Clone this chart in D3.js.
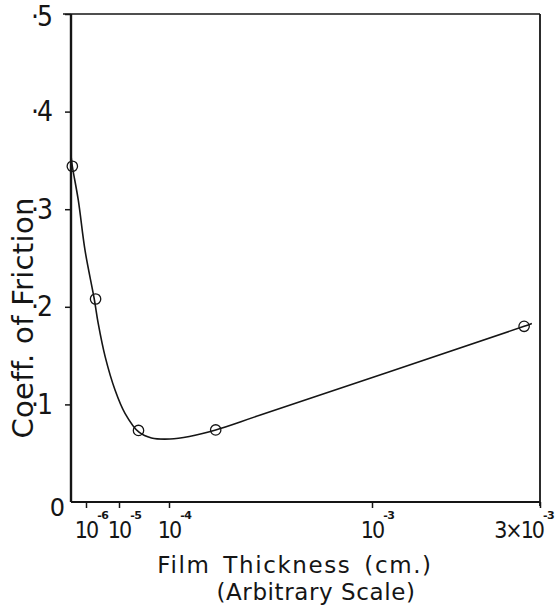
<!DOCTYPE html>
<html>
<head>
<meta charset="utf-8">
<script src="https://cdn.jsdelivr.net/npm/d3@7"></script>
<style>
  html, body { margin: 0; padding: 0; background: #fff; }
  svg { display: block; }
  text { font-family: "DejaVu Sans", "Liberation Sans", sans-serif; fill: #151515; }
</style>
</head>
<body>
<svg id="chart" width="558" height="611"></svg>
<script>
// Film thickness is stored as log10(cm); the horizontal axis is an arbitrary scale.
const pointThickness = [-6.41, -5.71, -4.61, -3.77, -2.568];
const pointFriction  = [0.344, 0.208, 0.0733, 0.0738, 0.180];

// Hand-drawn fair curve through the measurements (log10 cm, coefficient).
const curveThickness = [-6.45, -6.41, -6.23, -6.03, -5.75, -5.63, -5.42, -5.12, -4.88, -4.60, -4.35, -3.995, -3.90, -3.77, -3.55, -2.568, -2.546];
const curveFriction  = [0.355, 0.344, 0.309, 0.258, 0.208, 0.183, 0.149, 0.1148, 0.0909, 0.0715, 0.0656, 0.0645, 0.0671, 0.0738, 0.0891, 0.180, 0.183];

// Axis ticks
const xTickValues = [-6, -5, -4, -3, Math.log10(0.003)];
const xTickBase   = ["10", "10", "10", "10", "3×10"];
const xTickSup    = ["-6", "-5", "-4", "-3", "-3"];
const yTickValues = [0, 0.1, 0.2, 0.3, 0.4, 0.5];
const yTickLabels = ["0", "·1", "·2", "·3", "·4", "·5"];

const svg = d3.select("#chart");
const plotLeft = 71, plotRight = 540, plotTop = 14, plotBottom = 502;

// Piecewise arbitrary scale for the thickness decades
const x = d3.scaleLinear()
  .domain([-6.45, -6, -5, -4, -3, Math.log10(0.003)])
  .range([0, 15, 48, 98, 301, 469].map(d => plotLeft + d));

const y = d3.scaleLinear().domain([0, 0.5]).range([plotBottom, plotTop]);

const ink = "#151515";
const condensed = "'DejaVu Sans Condensed', 'DejaVu Sans', sans-serif";

// Frame
svg.append("line").attr("x1", plotLeft - 8).attr("x2", plotRight).attr("y1", plotTop).attr("y2", plotTop)
  .attr("stroke", ink).attr("stroke-width", 1.6);
svg.append("line").attr("x1", plotRight).attr("x2", plotRight).attr("y1", plotTop).attr("y2", plotBottom + 4)
  .attr("stroke", ink).attr("stroke-width", 1.8);

// Y axis
const yAxis = svg.append("g").attr("transform", `translate(${plotLeft},0)`)
  .call(d3.axisLeft(y).tickValues(yTickValues).tickSize(6).tickPadding(14)
    .tickFormat((d, i) => yTickLabels[i]));
yAxis.select(".domain").attr("stroke", ink).attr("stroke-width", 2.4).attr("d", `M0,${plotTop}V${plotBottom}`);
yAxis.selectAll(".tick line").attr("stroke", ink).attr("stroke-width", 1.5);
yAxis.selectAll(".tick text")
  .attr("font-size", 28).attr("letter-spacing", -2).attr("fill", ink)
  .style("font-family", condensed);
yAxis.selectAll(".tick").filter(d => d === 0).select("text")
  .attr("x", -8).attr("dy", "0.55em").attr("font-size", 24)
  .style("font-family", null);
yAxis.selectAll(".tick").filter(d => d === 0).select("line").remove();
yAxis.selectAll(".tick").filter(d => d === 0.5).select("text").attr("dy", "0.42em");

// X axis
const xAxis = svg.append("g").attr("transform", `translate(0,${plotBottom})`)
  .call(d3.axisBottom(x).tickValues(xTickValues).tickSize(6).tickFormat(""));
xAxis.select(".domain").attr("stroke", ink).attr("stroke-width", 2.2).attr("d", `M${plotLeft},0H${plotRight}`);
xAxis.selectAll(".tick line").attr("stroke", ink).attr("stroke-width", 1.5);

// Tick labels with superscript exponents
const labels = svg.append("g").attr("class", "xlabels");
xTickValues.forEach((v, i) => {
  const tx = x(v);
  const probe = labels.append("text").attr("font-size", 23).attr("letter-spacing", -2)
    .style("font-family", condensed).text("10");
  const half = probe.node().getComputedTextLength() / 2;
  probe.remove();
  const endX = Math.min(tx + half, 543);
  labels.append("text")
    .attr("x", endX).attr("y", plotBottom + 36)
    .attr("text-anchor", "end").attr("font-size", 23)
    .attr("letter-spacing", -2).style("font-family", condensed)
    .text(xTickBase[i]);
  labels.append("text")
    .attr("x", endX).attr("y", plotBottom + 17)
    .attr("font-size", 11).attr("font-weight", "bold")
    .attr("letter-spacing", -0.5)
    .text(xTickSup[i]);
});

// Axis titles
svg.append("text")
  .attr("x", 295).attr("y", 573)
  .attr("text-anchor", "middle").attr("font-size", 23)
  .attr("letter-spacing", 1.6).attr("word-spacing", 4)
  .text("Film Thickness (cm.)");
svg.append("text")
  .attr("x", 316).attr("y", 600)
  .attr("text-anchor", "middle").attr("font-size", 23)
  .attr("letter-spacing", 0.6)
  .text("(Arbitrary Scale)");
svg.append("text")
  .attr("transform", "translate(33,318) rotate(-90)")
  .attr("text-anchor", "middle").attr("font-size", 29)
  .attr("letter-spacing", 0.3)
  .text("Coeff. of Friction");

// Fair curve
const curve = curveThickness.map((t, i) => [t, curveFriction[i]]);
svg.append("path")
  .datum(curve)
  .attr("fill", "none").attr("stroke", ink).attr("stroke-width", 1.6)
  .attr("d", d3.line().x(d => x(d[0])).y(d => y(d[1])).curve(d3.curveCatmullRom.alpha(0.5)));

// Measured points
const pts = pointThickness.map((t, i) => [t, pointFriction[i]]);
svg.append("g").selectAll("circle")
  .data(pts).join("circle")
  .attr("cx", d => x(d[0])).attr("cy", d => y(d[1]))
  .attr("r", 5.2)
  .attr("fill", "none").attr("stroke", ink).attr("stroke-width", 1.3);
</script>
</body>
</html>
